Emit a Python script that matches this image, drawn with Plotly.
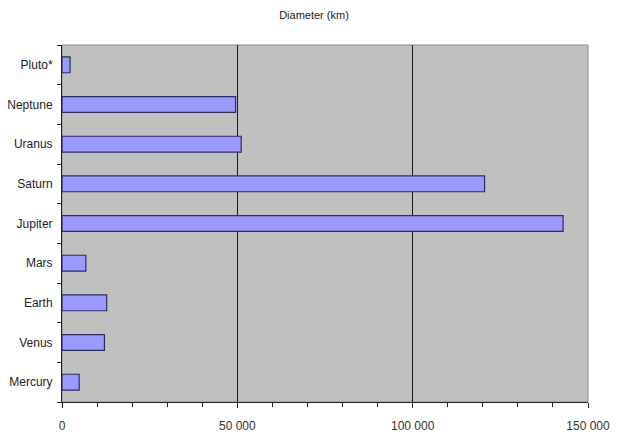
import plotly.graph_objects as go

# Planet diameters (km)
planets = ["Mercury", "Venus", "Earth", "Mars", "Jupiter",
           "Saturn", "Uranus", "Neptune", "Pluto*"]
diameter_km = [4900, 12100, 12750, 6800, 142900, 120500, 51100, 49500, 2300]

x_tickvals = [0, 50000, 100000, 150000]
x_ticktext = ["0", "50 000", "100 000", "150 000"]

fig = go.Figure()

fig.add_trace(go.Bar(
    x=diameter_km, y=planets, orientation="h",
    marker={"color": "#9999ff", "line": {"color": "#2e2e5e", "width": 1.2}},
    showlegend=False,
))

# grey frame round the plot area (top / right edges)
fig.add_shape(
    type="rect", xref="paper", yref="paper", x0=0, x1=1, y0=0, y1=1,
    line={"color": "#8a8a8a", "width": 1}, fillcolor="rgba(0,0,0,0)",
    layer="below",
)

fig.update_xaxes(
    range=[0, 150000],
    tickvals=x_tickvals, ticktext=x_ticktext,
    ticks="outside", ticklen=5, tickcolor="#222",
    minor={"dtick": 10000, "ticks": "outside", "ticklen": 4,
           "tickcolor": "#222", "showgrid": False},
    showgrid=True, gridcolor="#1a1a1a", gridwidth=1,
    showline=True, linecolor="#222", linewidth=1,
    zeroline=False, ticklabelstandoff=8, automargin=False,
    tickfont={"size": 12, "color": "#333"},
)
fig.update_yaxes(
    categoryorder="array", categoryarray=planets,
    tickson="boundaries", ticks="outside", ticklen=4, tickcolor="#222",
    showline=True, linecolor="#222", linewidth=1,
    showgrid=False, zeroline=False, ticklabelstandoff=6, automargin=False,
    tickfont={"size": 12, "color": "#222"},
)
# page body adds an 8px offset, so the figure is sized a little smaller
fig.update_layout(
    title={"text": "Diameter (km)", "x": 0.5, "xanchor": "center",
           "y": 0.984, "yanchor": "middle",
           "font": {"size": 11, "color": "#222"}},
    width=612, height=429,
    margin={"l": 54, "r": 32, "t": 37, "b": 35},
    plot_bgcolor="#c0c0c0", paper_bgcolor="white",
    bargap=0.6,
    font={"family": "Liberation Sans, Arial, sans-serif"},
)

fig.write_html("out.html")
